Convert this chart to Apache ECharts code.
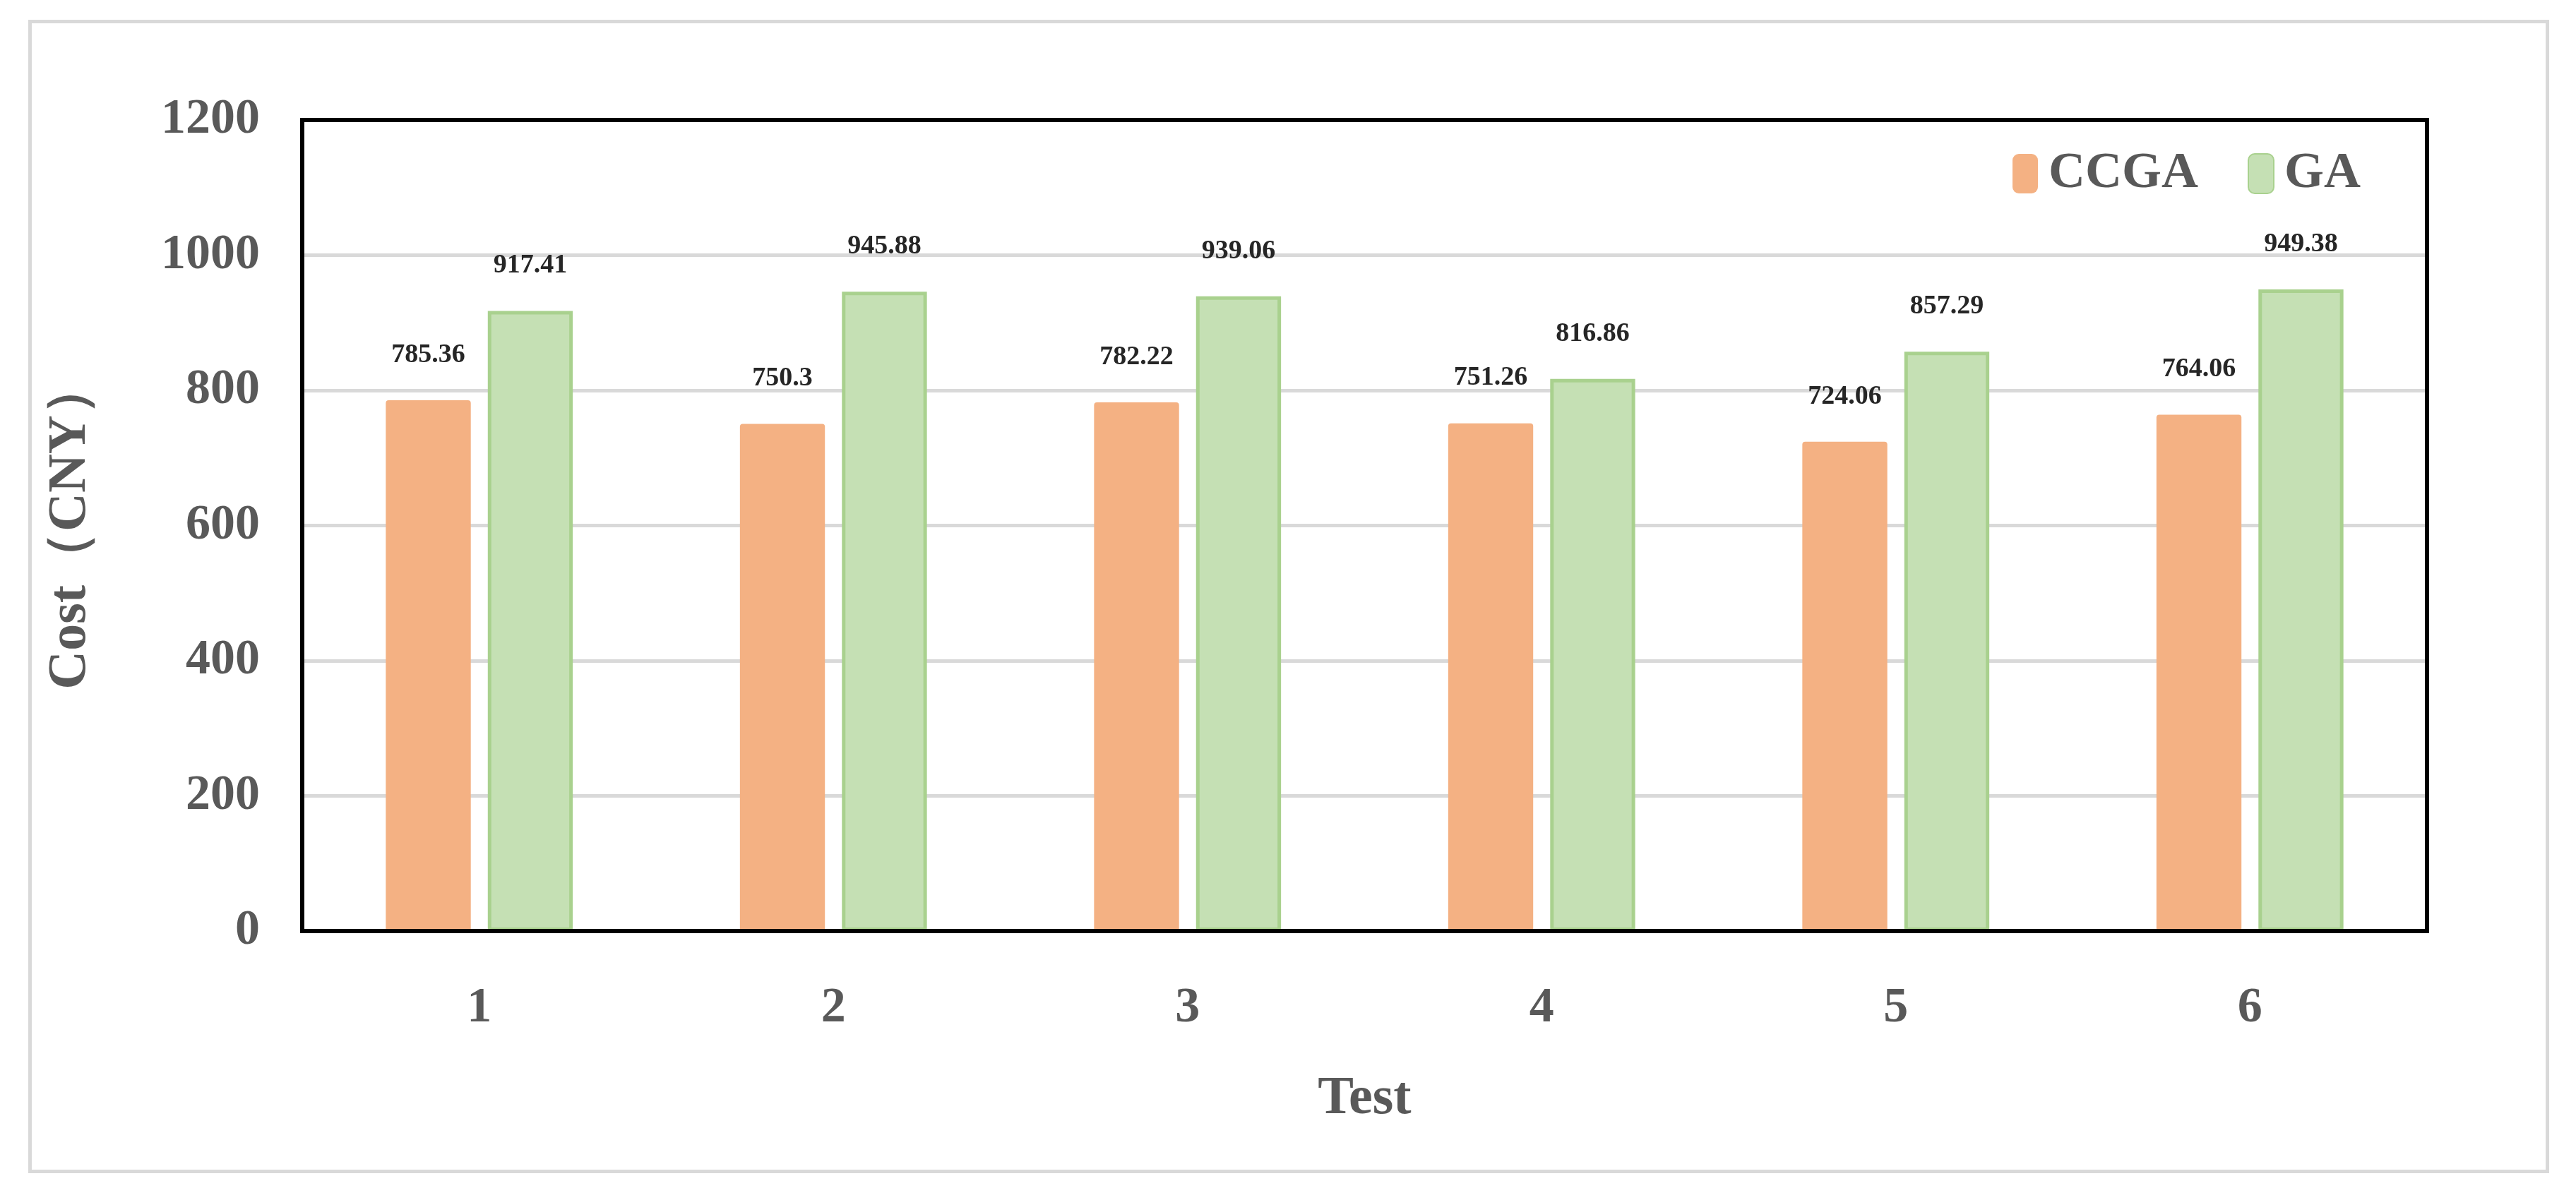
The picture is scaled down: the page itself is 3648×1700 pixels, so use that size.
<!DOCTYPE html>
<html>
<head>
<meta charset="utf-8">
<script src="https://cdn.jsdelivr.net/npm/echarts@6/dist/echarts.min.js"></script>
<style>
  html, body { margin: 0; padding: 0; background: #fff; }
  #frame { position: absolute; left: 40px; top: 28px; width: 3560px; height: 1624px; border: 5px solid #d9d9d9; }
  #chart { position: absolute; left: 0; top: 0; width: 3648px; height: 1700px; }
</style>
</head>
<body>
<div id="frame"></div>
<div id="chart"></div>
<script>
const categories = ['1', '2', '3', '4', '5', '6'];
const ccga = [785.36, 750.3, 782.22, 751.26, 724.06, 764.06];
const ga = [917.41, 945.88, 939.06, 816.86, 857.29, 949.38];
const font = 'Liberation Serif';

const chart = echarts.init(document.getElementById('chart'));
const label = {
  show: true,
  position: 'top',
  distance: 45,
  fontFamily: font,
  fontWeight: 'bold',
  fontSize: 38,
  color: '#262626',
};
chart.setOption({
  animation: false,
  grid: {
    left: 428, right: 211, top: 170, bottom: 381,
    show: true, borderColor: '#000', borderWidth: 6, z: 10,
  },
  legend: {
    right: 300, top: 205,
    itemWidth: 36, itemHeight: 56, itemGap: 70,
    textStyle: { fontFamily: font, fontWeight: 'bold', fontSize: 72, color: '#595959', padding: [0, 0, 0, 10] },
    data: ['CCGA', 'GA'],
  },
  xAxis: {
    type: 'category',
    data: categories,
    name: 'Test',
    nameLocation: 'middle',
    nameGap: 200,
    nameTextStyle: { fontFamily: font, fontWeight: 'bold', fontSize: 76, color: '#595959' },
    axisLine: { show: false },
    axisTick: { show: false },
    axisLabel: { fontFamily: font, fontWeight: 'bold', fontSize: 70, color: '#595959', margin: 75 },
  },
  yAxis: {
    type: 'value',
    min: 0, max: 1200, interval: 200,
    name: 'Cost（CNY）',
    nameLocation: 'middle',
    nameGap: 290,
    nameTextStyle: { fontFamily: font, fontWeight: 'bold', fontSize: 76, color: '#595959' },
    axisLabel: {
      fontFamily: font, fontWeight: 'bold', fontSize: 70, color: '#595959', margin: 60,
      formatter: (v) => String(v),
    },
    splitLine: { lineStyle: { color: '#d9d9d9', width: 5 } },
  },
  series: [
    {
      name: 'CCGA', type: 'bar', data: ccga,
      barWidth: '24%', barGap: '20%',
      itemStyle: { color: '#f4b183', borderRadius: [4, 4, 0, 0] },
      label,
    },
    {
      name: 'GA', type: 'bar', data: ga,
      barWidth: '24%',
      itemStyle: { color: '#c5e0b4', borderColor: '#a9d18e', borderWidth: 5 },
      label,
    },
  ],
});
</script>
</body>
</html>
